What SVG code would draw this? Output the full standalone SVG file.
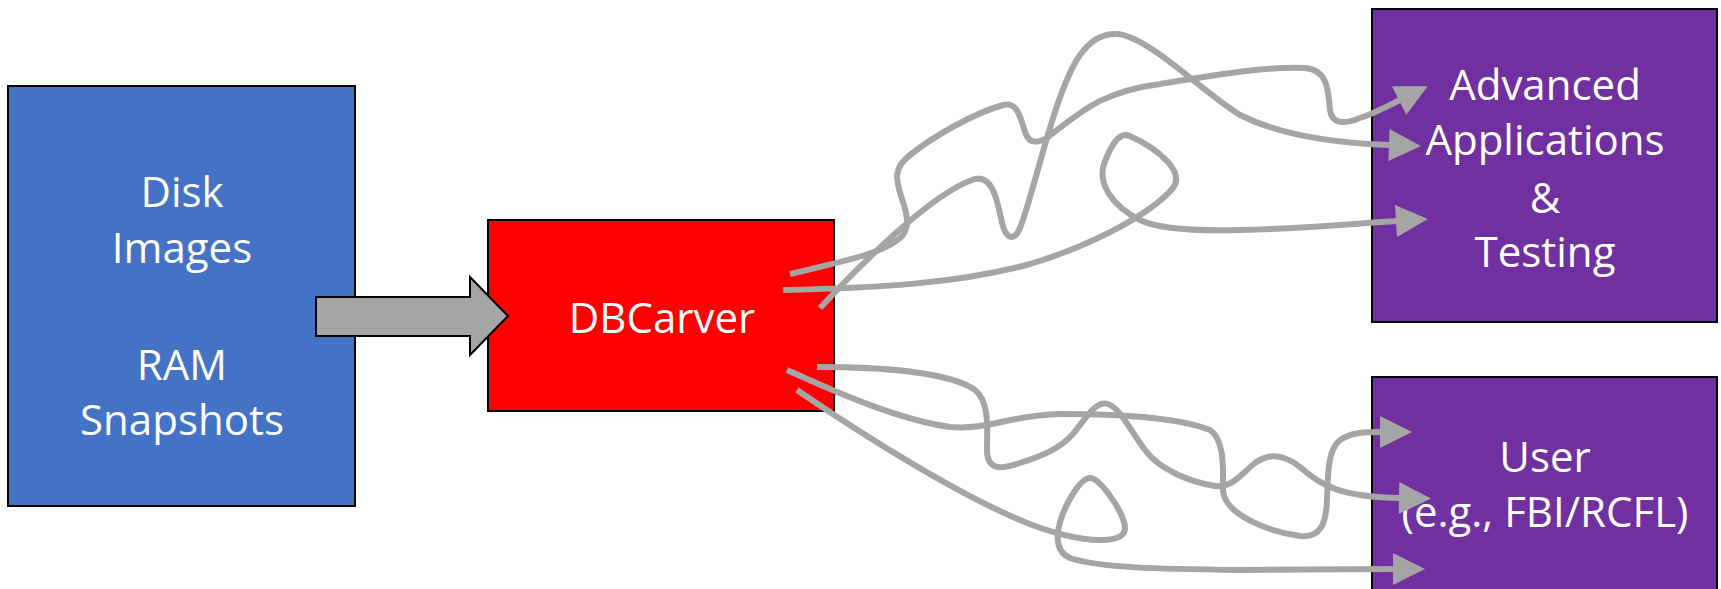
<svg xmlns="http://www.w3.org/2000/svg" width="1721" height="589" viewBox="0 0 1721 589">
  <style>
    .box { stroke: #000000; stroke-width: 2; }
    .label { font-family: "Open Sans", "Noto Sans", "Liberation Sans", sans-serif; font-size: 42px; fill: #ffffff; text-anchor: middle; }
    .wire { fill: none; stroke: #a5a5a5; stroke-width: 6; stroke-linejoin: round; }
    .wire-end { marker-end: url(#head); }
  </style>
  <defs>
    <marker id="head" markerUnits="userSpaceOnUse" markerWidth="34" markerHeight="34" refX="1" refY="16" orient="auto" viewBox="0 0 34 34" overflow="visible">
      <path d="M0,0 L32,16 L0,32 Z" fill="#a5a5a5"/>
    </marker>
  </defs>

  <rect width="1721" height="589" fill="#ffffff"/>

  <g id="sources">
    <rect class="box" x="8" y="86" width="347" height="420" fill="#4472c4"/>
    <text class="label" x="182" y="207">Disk</text>
    <text class="label" x="182" y="263">Images</text>
    <text class="label" x="182" y="380">RAM</text>
    <text class="label" x="182" y="435">Snapshots</text>
  </g>

  <g id="dbcarver">
    <rect class="box" x="488" y="220" width="346" height="191" fill="#ff0000"/>
    <text class="label" x="662" y="333">DBCarver</text>
  </g>

  <g id="applications">
    <rect class="box" x="1372" y="9" width="345" height="313" fill="#7030a0"/>
    <text class="label" x="1545" y="100">Advanced</text>
    <text class="label" x="1545" y="155">Applications</text>
    <text class="label" x="1545" y="213">&amp;</text>
    <text class="label" x="1545" y="267">Testing</text>
  </g>

  <g id="user">
    <rect class="box" x="1372" y="377" width="345" height="230" fill="#7030a0"/>
    <text class="label" x="1545" y="472">User</text>
    <text class="label" x="1545" y="527">(e.g., FBI/RCFL)</text>
  </g>

  <g id="connectors">
    <!-- input block arrow -->
    <polygon points="316,297 470,297 470,277 508,316 470,355 470,336 316,336" fill="#a5a5a5" stroke="#000000" stroke-width="2" stroke-linejoin="miter"/>

    <!-- tangled outputs to the upper box -->
    <path class="wire wire-end" d="M790,274 C840,262 882,254 900,238 C912,228 906,210 901,196 C896,180 893,168 910,155 C935,135 975,113 1003,105 C1018,101 1021,120 1025,132 C1029,145 1040,144 1052,134 C1080,113 1100,92 1160,84 C1220,74 1270,66 1305,68 C1330,70 1328,95 1330,110 C1332,125 1345,124 1360,118 C1375,113 1388,106 1400,100"/>
    <path class="wire wire-end" d="M820,308 C860,265 930,195 972,180 C992,172 997,200 1001,218 C1005,240 1014,242 1020,228 C1035,190 1055,90 1080,55 C1092,38 1105,33 1118,34 C1150,38 1200,90 1240,115 C1280,135 1330,143 1390,145"/>
    <path class="wire wire-end" d="M783,290 C880,288 960,283 1030,264 C1090,246 1150,215 1173,188 C1185,172 1160,150 1130,136 C1118,131 1110,148 1104,164 C1098,182 1110,205 1140,220 C1160,230 1200,231 1240,230 C1300,229 1350,224 1397,221"/>

    <!-- tangled outputs to the lower box -->
    <path class="wire wire-end" d="M817,367 C880,367 950,372 975,390 C990,402 987,430 987,450 C987,470 1000,470 1020,463 C1045,455 1060,448 1072,435 C1085,420 1095,400 1108,404 C1120,408 1130,430 1145,450 C1160,470 1190,482 1215,486 C1232,488 1240,475 1255,463 C1270,452 1285,455 1300,467 C1320,485 1340,497 1400,498"/>
    <path class="wire wire-end" d="M787,370 C840,394 900,420 950,427 C990,430 1010,415 1060,414 C1120,414 1180,418 1210,430 C1225,440 1223,470 1223,490 C1224,515 1270,532 1300,536 C1320,538 1326,525 1327,500 C1328,470 1328,450 1340,440 C1352,432 1365,432 1381,432"/>
    <path class="wire wire-end" d="M797,390 C870,440 960,495 1020,520 C1050,533 1080,540 1100,540 C1120,540 1128,535 1124,522 C1120,508 1100,478 1090,478 C1080,478 1065,505 1060,522 C1055,540 1058,553 1070,558 C1100,568 1160,569 1240,570 C1300,570 1350,569 1394,569"/>
  </g>
</svg>
